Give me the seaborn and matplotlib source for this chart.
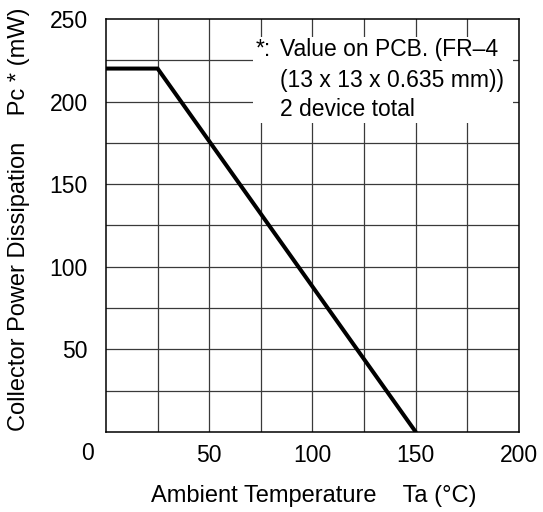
import matplotlib
matplotlib.use("Agg")
import matplotlib.pyplot as plt
from matplotlib.patches import Rectangle
import seaborn as sns
import pandas as pd

# Derating curve: collector power dissipation vs ambient temperature
temperature_c = [0, 25, 150]
power_mw = [220, 220, 0]

x_ticks = [0, 50, 100, 150, 200]
y_ticks = [50, 100, 150, 200, 250]
grid_step = 25

note_lines = ["Value on PCB. (FR\u20134", "(13 x 13 x 0.635 mm))", "2 device total"]

sns.set_style("white")
plt.rcParams["font.family"] = ["Liberation Sans", "DejaVu Sans"]
plt.rcParams["text.color"] = "black"
plt.rcParams["axes.labelcolor"] = "black"

FS = 16.5
W, H = 543, 512
fig = plt.figure(figsize=(W / 100, H / 100), dpi=100)
L, R, B, T = 106, 519, 432, 19
ax = fig.add_axes([L / W, 1 - B / H, (R - L) / W, (B - T) / H])

df = pd.DataFrame({"Ta": temperature_c, "Pc": power_mw})
sns.lineplot(data=df, x="Ta", y="Pc", ax=ax, color="black", linewidth=2.9,
             zorder=5, solid_joinstyle="miter")

ax.set_xlim(0, 200)
ax.set_ylim(0, 250)

# grid every 25 units
for v in range(grid_step, 200, grid_step):
    ax.axvline(v, color="#3a3a3a", linewidth=0.9, zorder=1)
for v in range(grid_step, 250, grid_step):
    ax.axhline(v, color="#3a3a3a", linewidth=0.9, zorder=1)

for s in ax.spines.values():
    s.set_color("black")
    s.set_linewidth(1.1)
    s.set_visible(True)

ax.set_xticks(x_ticks)
ax.set_xticklabels([""] + [str(t) for t in x_ticks[1:]])
ax.set_yticks(y_ticks)
ax.set_yticklabels([str(t) for t in y_ticks])
ax.tick_params(axis="both", length=0, labelsize=FS, colors="black")
ax.tick_params(axis="x", pad=9)
ax.tick_params(axis="y", pad=13)

# shared origin label
ax.annotate("0", xy=(0, 0), xycoords="data", xytext=(-18, -21),
            textcoords="offset pixels", ha="center", va="center",
            fontsize=FS, color="black")

ax.set_xlabel("Ambient Temperature    Ta (\u00b0C)", fontsize=17)
ax.xaxis.set_label_coords(0.503, -0.155)
ax.xaxis.label.set_va("center")
ax.set_ylabel("Collector Power Dissipation    Pc * (mW)", fontsize=17)
ax.yaxis.set_label_coords(-0.211, 0.516)
ax.yaxis.label.set_va("center")

# note panel in upper right
def px_to_data(px, py):
    return (px - L) / (R - L) * 200, (B - py) / (B - T) * 250

x0, y1 = px_to_data(253, 37)
x1, y0 = px_to_data(513, 123)
ax.add_patch(Rectangle((x0, y0), x1 - x0, y1 - y0, facecolor="white",
                       edgecolor="none", zorder=3))
sx, sy = px_to_data(256, 50)
ax.text(sx, sy, "*:", fontsize=FS, ha="left", va="center", zorder=4)
for i, line in enumerate(note_lines):
    tx, ty = px_to_data(280, 50 + 30 * i)
    ax.text(tx, ty, line, fontsize=FS, ha="left", va="center", zorder=4)

fig.savefig("out.png", dpi=100)
